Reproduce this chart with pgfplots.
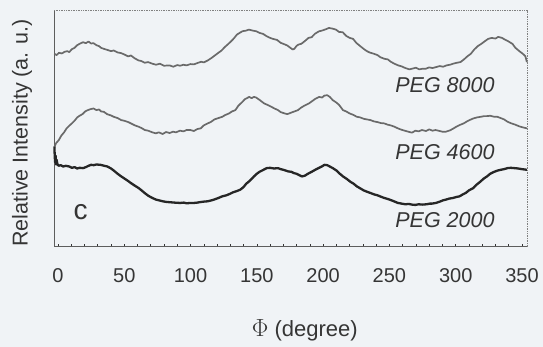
\documentclass[border=0pt]{standalone}
\usepackage{fontspec}
\setmainfont{Liberation Sans}
\usepackage{pgfplots}
\pgfplotsset{compat=1.18}
\usetikzlibrary{backgrounds}
\definecolor{bgc}{HTML}{F0F3F6}
\definecolor{txt}{HTML}{353535}
\definecolor{gline}{HTML}{6A6A6A}
\definecolor{dline}{HTML}{262626}
\begin{document}
\begin{tikzpicture}
\begin{axis}[
  scale only axis, width=473.3bp, height=236bp,
  xmin=-3, xmax=354, ymin=0, ymax=712,
  xtick={0,50,...,350}, minor x tick num=4,
  ytick=\empty,
  xtick pos=bottom, tick align=inside,
  major tick length=3bp, minor tick length=3bp,
  tick style={color=txt, line width=0.6bp},
  axis line style={draw=none},
  /pgf/number format/assume math mode=true,
  font=\fontsize{20bp}{24bp}\selectfont,
  every tick label/.append style={text=txt},
  xticklabel style={anchor=base, yshift=-36bp},
  xlabel={\scalebox{1.2}{$\Phi$} (degree)},
  xlabel style={at={(axis description cs:0.530,-0.353)}, anchor=center, font=\fontsize{22bp}{26bp}\selectfont, text=txt},
  ylabel={Relative Intensity (a. u.)},
  ylabel style={at={(axis description cs:-0.0676,0.482)}, anchor=center, font=\fontsize{21.5bp}{26bp}\selectfont, text=txt},
  clip=false,
]
\coordinate (bl) at (rel axis cs:0,0);
\coordinate (tr) at (rel axis cs:1,1);
\draw[color=txt!80, line width=0.9bp] (rel axis cs:0,1) -- (rel axis cs:0,0) -- (rel axis cs:1,0);
\draw[color=gray, densely dotted, line width=0.7bp] (rel axis cs:0,1) -- (rel axis cs:1,1) -- (rel axis cs:1,0);
% PEG 8000
\addplot[gline, line width=1.7bp, line join=round] coordinates {
(-2.7,582) (-1,578) (0.7,585) (3,583) (5,588) (7,590) (8.5,587) (10.5,596) (12.5,600) (14.5,608)
(16.3,612) (18.9,617) (21,614) (23,619) (25,613) (26.8,614) (29,608) (31,605) (32.5,600) (34.6,597)
(37,594) (40,590) (42,592) (45,586) (47.7,584) (50,580) (53,574) (55,577) (58,568) (60.8,562)
(63,560) (65.5,555) (68,557) (71.2,552) (74,549) (77,552) (80,546) (84.2,547) (87,543) (90,548)
(92.1,546) (94.7,549) (97,547) (100,551) (102.5,550) (105.1,554) (108,558) (110,556) (113,562) (116,570)
(118,576) (120,582) (123.4,592) (126,603) (128,610) (131.2,622) (133,630) (135,640) (137,645) (139.1,650)
(142,652) (144,655) (146.9,652) (149.5,650) (152,645) (154.7,642) (157,636) (160,630) (162,627) (165.2,624)
(168,615) (170,612) (173,607) (175.6,599) (177,595) (178.3,597) (180,606) (181.5,610) (183.5,612) (186.1,620)
(189,630) (191.3,632) (194,643) (197,650) (199.2,652) (202,656) (204.4,660) (207,658) (209.6,655) (212,648)
(214.8,647) (217.4,636) (220,630) (222.6,627) (225,615) (228,605) (230.5,597) (233,590) (235,586) (238.3,582)
(241,578) (243,572) (246.1,567) (248.8,565) (251,558) (253.8,552) (256.6,547) (259.2,544) (262,539) (265,535)
(267,537) (270,540) (272.5,535) (275,537) (277.5,537) (280,541) (282.5,539) (285.3,542) (288,545) (290.5,543)
(293.1,547) (295.7,549) (298,552) (301,555) (303.6,557) (306.2,565) (309,575) (311.4,582) (314,595) (316.6,605)
(319.3,612) (322,620) (324.5,627) (327.1,630) (330,628) (332,633) (334.9,630) (337,625) (339.5,620) (342.8,612)
(345,600) (348,590) (350.6,582) (352.5,575) (353.7,557)
};
% PEG 4600
\addplot[gline, line width=1.7bp, line join=round] coordinates {
(-2.7,300) (-1.5,312) (0.7,322) (2.5,335) (4.6,345) (6.5,357) (8.5,365) (10.5,372) (12.5,380) (14.5,390)
(16.3,395) (18.5,400) (20.5,408) (22.5,412) (24.5,415) (26.8,417) (29,412) (31,414) (32.5,408) (34.6,407)
(37,400) (40,396) (42,392) (45,388) (47.7,382) (50,380) (53,376) (55,372) (58,366) (60.8,362)
(63,358) (65.5,352) (68,350) (71.2,345) (73.8,342) (76,345) (79,340) (81.5,346) (84.2,343) (86.8,347)
(89,345) (92,350) (94.7,348) (97,352) (99.9,352) (102.5,349) (105.1,355) (107.7,357) (110,366) (113,372)
(115.6,377) (118,384) (121,388) (124,392) (126,397) (129,402) (131.2,408) (133.8,412) (136,425) (139.1,437)
(141,445) (144.3,452) (146,448) (147.8,452) (149.5,450) (152,443) (155.6,432) (158,428) (160,424) (163.3,417)
(166,412) (168,406) (171,402) (173,400) (175.6,404) (178.3,408) (181,412) (183.5,420) (186.1,426) (189.2,432)
(192,440) (194,446) (197,452) (199.2,450) (201,456) (203.1,457) (205,452) (207.3,442) (209.6,436) (212,428)
(215,412) (217.4,408) (220,402) (222.6,398) (225.4,392) (228,390) (230.5,386) (233,384) (235.7,382) (238.3,378)
(241,376) (243.5,373) (246.1,372) (248.8,368) (251,366) (253.8,362) (256.4,357) (259,353) (261.5,350) (264.2,347)
(267,344) (269.6,350) (272,348) (274.5,352) (277.5,349) (280,354) (282.5,350) (284.8,352) (287.9,349) (290,347)
(292.6,347) (295.7,351) (298,356) (300.5,362) (302.9,367) (306,372) (308.5,378) (311,383) (313.3,387) (316,390)
(319,392) (321.5,394) (323.6,394) (326,395) (329,392) (331.3,392) (334,388) (336.5,384) (339.1,377) (342,372)
(345,368) (348,363) (350.6,360) (353.7,357)
};
% PEG 2000
\addplot[dline, line width=2.3bp, line join=round] coordinates {
(-2.7,302) (-2.5,280) (-2.2,255) (-1.8,275) (-1.4,248) (-1,262) (-0.5,250) (0.5,244) (2,246) (4,242)
(6,244) (8.5,242) (10.5,238) (12.5,240) (14.5,236) (16.3,238) (18.9,237) (21,240) (23,244) (25,247)
(27,246) (29,248) (32,247) (34,245) (37.2,242) (40,236) (42,230) (45,220) (47.7,212) (50,206)
(53,198) (55,192) (58,184) (60.8,177) (63,170) (66,160) (68,154) (71.2,147) (74,142) (76,140)
(79,137) (82,135) (85,134) (88,133) (92.1,132) (95,133) (97,131) (100,132) (102.5,132) (105,133)
(108,135) (110,136) (113,137) (116,140) (119,144) (121,147) (124,152) (127,155) (130,160) (132,164)
(135,168) (137.5,172) (140,180) (142,190) (145,200) (147.8,212) (150,220) (152,226) (155,232) (157.4,237)
(160,238) (163,236) (165.9,237) (168,234) (170,232) (173.7,227) (176,226) (178,222) (180,220) (182,216)
(184,212) (186.1,214) (188.5,220) (191.8,227) (194,232) (197,238) (199,242) (201,247) (203.1,246) (205,242)
(207.3,237) (210,230) (212,222) (215,212) (218,204) (220.5,196) (223,190) (225.4,182) (228,176) (230.5,170)
(233,166) (235.7,162) (238.3,158) (241,155) (243.5,151) (246.1,147) (248.8,144) (251.5,140) (254,136) (256.4,132)
(259.2,130) (262,128) (264.5,129) (267,127) (269.6,126) (272,128) (275,127) (278,128) (280.5,130) (282.2,130)
(285,132) (288,136) (290.5,140) (292.6,142) (295,145) (298,147) (300.5,150) (302.9,152) (305,157) (307.5,162)
(310,170) (313.3,177) (316,188) (318.5,196) (321,205) (323.6,212) (326,220) (328.5,225) (331,229) (333.9,232)
(336.5,234) (339,237) (341.5,238) (344.3,237) (347,236) (350,234) (353.7,232)
};
\node[text=txt, font=\fontsize{21.5bp}{24bp}\selectfont\itshape] at (axis cs:291.9,487) {PEG 8000};
\node[text=txt, font=\fontsize{21.5bp}{24bp}\selectfont\itshape] at (axis cs:291.9,286) {PEG 4600};
\node[text=txt, font=\fontsize{21.5bp}{24bp}\selectfont\itshape] at (axis cs:291.9,80.5) {PEG 2000};
\node[text=txt, font=\fontsize{28bp}{30bp}\selectfont] at (axis cs:17,103) {c};
\end{axis}
\pgfresetboundingbox
\path[use as bounding box] ([shift={(-54bp,-100.3bp)}]bl) rectangle ([shift={(15.7bp,10.7bp)}]tr);
\begin{scope}[on background layer]
\fill[bgc] ([shift={(-54bp,-100.3bp)}]bl) rectangle ([shift={(15.7bp,10.7bp)}]tr);
\end{scope}
\end{tikzpicture}
\end{document}
